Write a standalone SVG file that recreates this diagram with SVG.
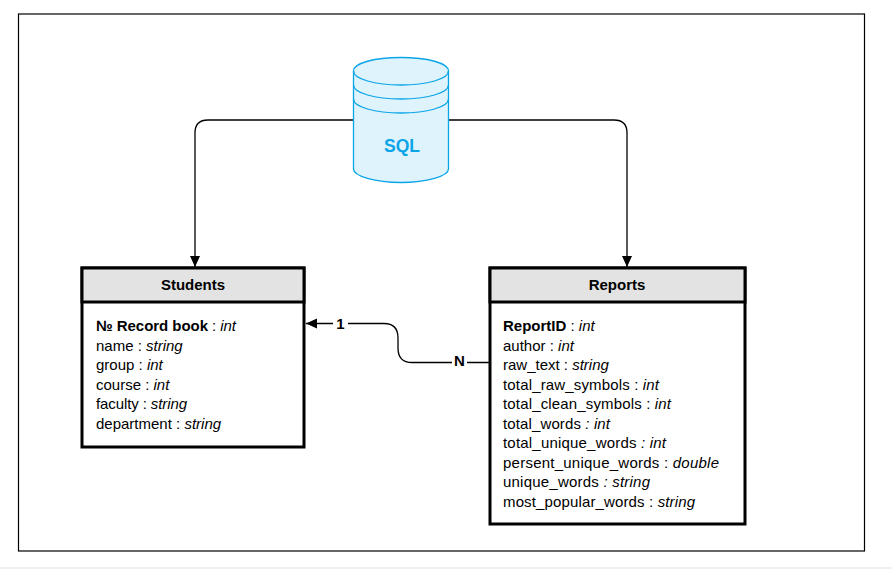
<svg xmlns="http://www.w3.org/2000/svg" width="892" height="569" viewBox="0 0 892 569">
<style>
text{font-family:"Liberation Sans",Arial,sans-serif;font-size:15px;fill:#000}
.t{font-weight:bold;text-anchor:middle}
.i{font-style:italic}
.b{font-weight:bold}
.box{fill:#fff;stroke:#000;stroke-width:3}
.hd{fill:#e3e3e3;stroke:#000;stroke-width:3}
.c{fill:none;stroke:#000;stroke-width:1.3}
.db{fill:#dff3fd;stroke:#0aa5e8;stroke-width:1.3}
.dbl{fill:none;stroke:#0aa5e8;stroke-width:1.3}
</style>
<defs><marker id="a" markerUnits="userSpaceOnUse" markerWidth="12" markerHeight="12" refX="11" refY="6" orient="auto"><path d="M0 1L11 6L0 11Z" fill="#000"/></marker></defs>
<rect width="892" height="569" fill="#fff"/>
<rect x="0" y="567" width="892" height="2" fill="#f0f0f0"/>
<rect id="frame" x="18.500" y="14" width="846" height="537" fill="#fff" stroke="#000" stroke-width="1.200"/>
<g id="connectors">
<path class="c" d="M353 120H208Q195 120 195 133V267" marker-end="url(#a)"/>
<path class="c" d="M449 120H614Q627 120 627 133V267" marker-end="url(#a)"/>
<path class="c" d="M489 362.500H412Q398 362.500 398 348V338Q398 323.500 384 323.500H306" marker-end="url(#a)"/>
<rect x="333" y="316" width="15" height="16" fill="#fff"/>
<rect x="452" y="354" width="15" height="16" fill="#fff"/>
<text class="b" x="340.500" y="328.500" text-anchor="middle">1</text>
<text class="b" x="459.500" y="366" text-anchor="middle">N</text>
</g>
<g id="sql">
<path class="db" d="M353.500 71V169C353.500 176 375 182.500 401 182.500S448.500 176 448.500 169V71C448.500 63 427 57.500 401 57.500S353.500 63 353.500 71Z"/>
<path class="dbl" d="M353.500 71C353.500 79 375 85 401 85S448.500 79 448.500 71"/>
<path class="dbl" d="M353.500 85C353.500 93 375 99 401 99S448.500 93 448.500 85"/>
<path class="dbl" d="M353.500 99C353.500 107 375 113 401 113S448.500 107 448.500 99"/>
<text x="402" y="152" text-anchor="middle" style="font-size:17.500px;font-weight:bold;fill:#0aa5e8">SQL</text>
</g>
<g id="students">
<rect class="box" x="82" y="268" width="222" height="179"/>
<rect class="hd" x="82" y="268" width="222" height="34"/>
<text class="t" x="193" y="290">Students</text>
<text x="96" y="331" textLength="140"><tspan class="b">№ Record book</tspan> : <tspan class="i">int</tspan></text>
<text x="96" y="351">name : <tspan class="i">string</tspan></text>
<text x="96" y="370">group : <tspan class="i">int</tspan></text>
<text x="96" y="390">course : <tspan class="i">int</tspan></text>
<text x="96" y="409" textLength="91">faculty : <tspan class="i">string</tspan></text>
<text x="96" y="429">department : <tspan class="i">string</tspan></text>
</g>
<g id="reports">
<rect class="box" x="490" y="268" width="255" height="256"/>
<rect class="hd" x="490" y="268" width="255" height="34"/>
<text class="t" x="617" y="290">Reports</text>
<text x="503" y="331"><tspan class="b">ReportID</tspan> : <tspan class="i">int</tspan></text>
<text x="503" y="351">author : <tspan class="i">int</tspan></text>
<text x="503" y="370">raw_text : <tspan class="i">string</tspan></text>
<text x="503" y="390" textLength="156">total_raw_symbols : <tspan class="i">int</tspan></text>
<text x="503" y="409" textLength="168">total_clean_symbols : <tspan class="i">int</tspan></text>
<text x="503" y="429" textLength="107">total_words <tspan class="i">: int</tspan></text>
<text x="503" y="448" textLength="163">total_unique_words <tspan class="i">: int</tspan></text>
<text x="503" y="468" textLength="216">persent_unique_words : <tspan class="i">double</tspan></text>
<text x="503" y="487" textLength="147">unique_words <tspan class="i">: string</tspan></text>
<text x="503" y="507" textLength="192">most_popular_words : <tspan class="i">string</tspan></text>
</g>
</svg>
